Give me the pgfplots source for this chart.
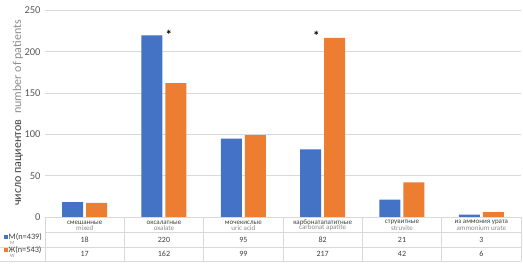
\documentclass[border=0pt]{standalone}
\usepackage{pgfplots}
\pgfplotsset{compat=1.18}
\usepackage{fontspec}
\setmainfont{Carlito}
\definecolor{bblue}{HTML}{4472C4}
\definecolor{oorange}{HTML}{ED7D31}
\definecolor{gridg}{HTML}{D9D9D9}
\definecolor{txt}{HTML}{404040}
\definecolor{tick}{HTML}{595959}
\definecolor{lgray}{HTML}{8C8C8C}
\begin{document}
\begin{tikzpicture}
\path[use as bounding box] (0,0) rectangle (523pt,265pt);
\begin{axis}[
  at={(45pt,48pt)}, anchor=south west,
  scale only axis, width=476pt, height=206.5pt,
  xmin=-0.5, xmax=5.5, ymin=0, ymax=250,
  xtick=\empty, ytick={0,50,100,150,200,250},
  ymajorgrids, grid style={color=gridg, line width=0.8pt},
  axis line style={draw=none},
  major tick length=0pt,
  /pgf/number format/assume math mode=true,
  yticklabel style={font=\fontsize{10.5}{12}\selectfont, color=tick, xshift=-1pt},
  ybar=3pt, bar width=21pt,
  clip=false,
]
\addplot[fill=bblue, draw=none] coordinates {(0,18) (1,220) (2,95) (3,82) (4,21) (5,3)};
\addplot[fill=oorange, draw=none] coordinates {(0,17) (1,162) (2,99) (3,217) (4,42) (5,6)};
\node[font=\fontsize{13}{14}\selectfont\bfseries] at (axis cs:1.06,221) {*};
\node[font=\fontsize{13}{14}\selectfont\bfseries] at (axis cs:2.92,219) {*};
\end{axis}
\begin{scope}[x=1pt, y=-1pt, shift={(0,265pt)}]
  % y label
  \node[rotate=90, font=\fontsize{12}{14}\selectfont] at (18,113)
    {\textcolor{txt}{число пациентов}\hspace{6pt}\textcolor{lgray}{number of patients}};
  % table lines
  \draw[gridg, line width=0.8pt] (45,232) -- (521,232);
  \draw[gridg, line width=0.8pt] (0,247) -- (521,247);
  \draw[gridg, line width=0.8pt] (0,261) -- (521,261);
  \foreach \k in {0,...,6} {
    \draw[gridg, line width=0.8pt] ({45+79.333*\k},217) -- ({45+79.333*\k},261);
  }
  % headers
  \foreach \i/\ru/\en in {0/смешанные/mixed, 1/оксалатные/oxalate, 2/мочекислые/uric acid, 3/карбонатапатитные/carbonat apatite, 4/струвитные/struvite, 5/из аммония урата/ammonium urate} {
    \node[font=\fontsize{7}{7}\selectfont, color=txt, inner sep=0pt] at ({45+79.333*(\i+0.5)},222.5) {\ru};
    \node[font=\fontsize{7}{7}\selectfont, color=lgray, inner sep=0pt] at ({45+79.333*(\i+0.5)},228) {\en};
  }
  % values
  \foreach \i/\m/\w in {0/18/17, 1/220/162, 2/95/99, 3/82/217, 4/21/42, 5/3/6} {
    \node[font=\fontsize{8}{8}\selectfont, color=txt, inner sep=0pt] at ({45+79.333*(\i+0.5)},239.5) {\m};
    \node[font=\fontsize{8}{8}\selectfont, color=txt, inner sep=0pt] at ({45+79.333*(\i+0.5)},254) {\w};
  }
  % legend
  \fill[bblue] (3.5,235.5) rectangle (7.5,239.5);
  \node[anchor=west, font=\fontsize{8.3}{8}\selectfont, color=txt, inner sep=0pt] at (8.5,237.5) {М(n=439)};
  \node[anchor=west, font=\fontsize{5}{6}\selectfont, color=lgray, inner sep=0pt] at (10,243) {M};
  \fill[oorange] (3.5,248.5) rectangle (7.5,252.5);
  \node[anchor=west, font=\fontsize{8.3}{8}\selectfont, color=txt, inner sep=0pt] at (8.5,250.5) {Ж(n=543)};
  \node[anchor=west, font=\fontsize{5}{6}\selectfont, color=lgray, inner sep=0pt] at (10,256) {W};
\end{scope}
\end{tikzpicture}
\end{document}
